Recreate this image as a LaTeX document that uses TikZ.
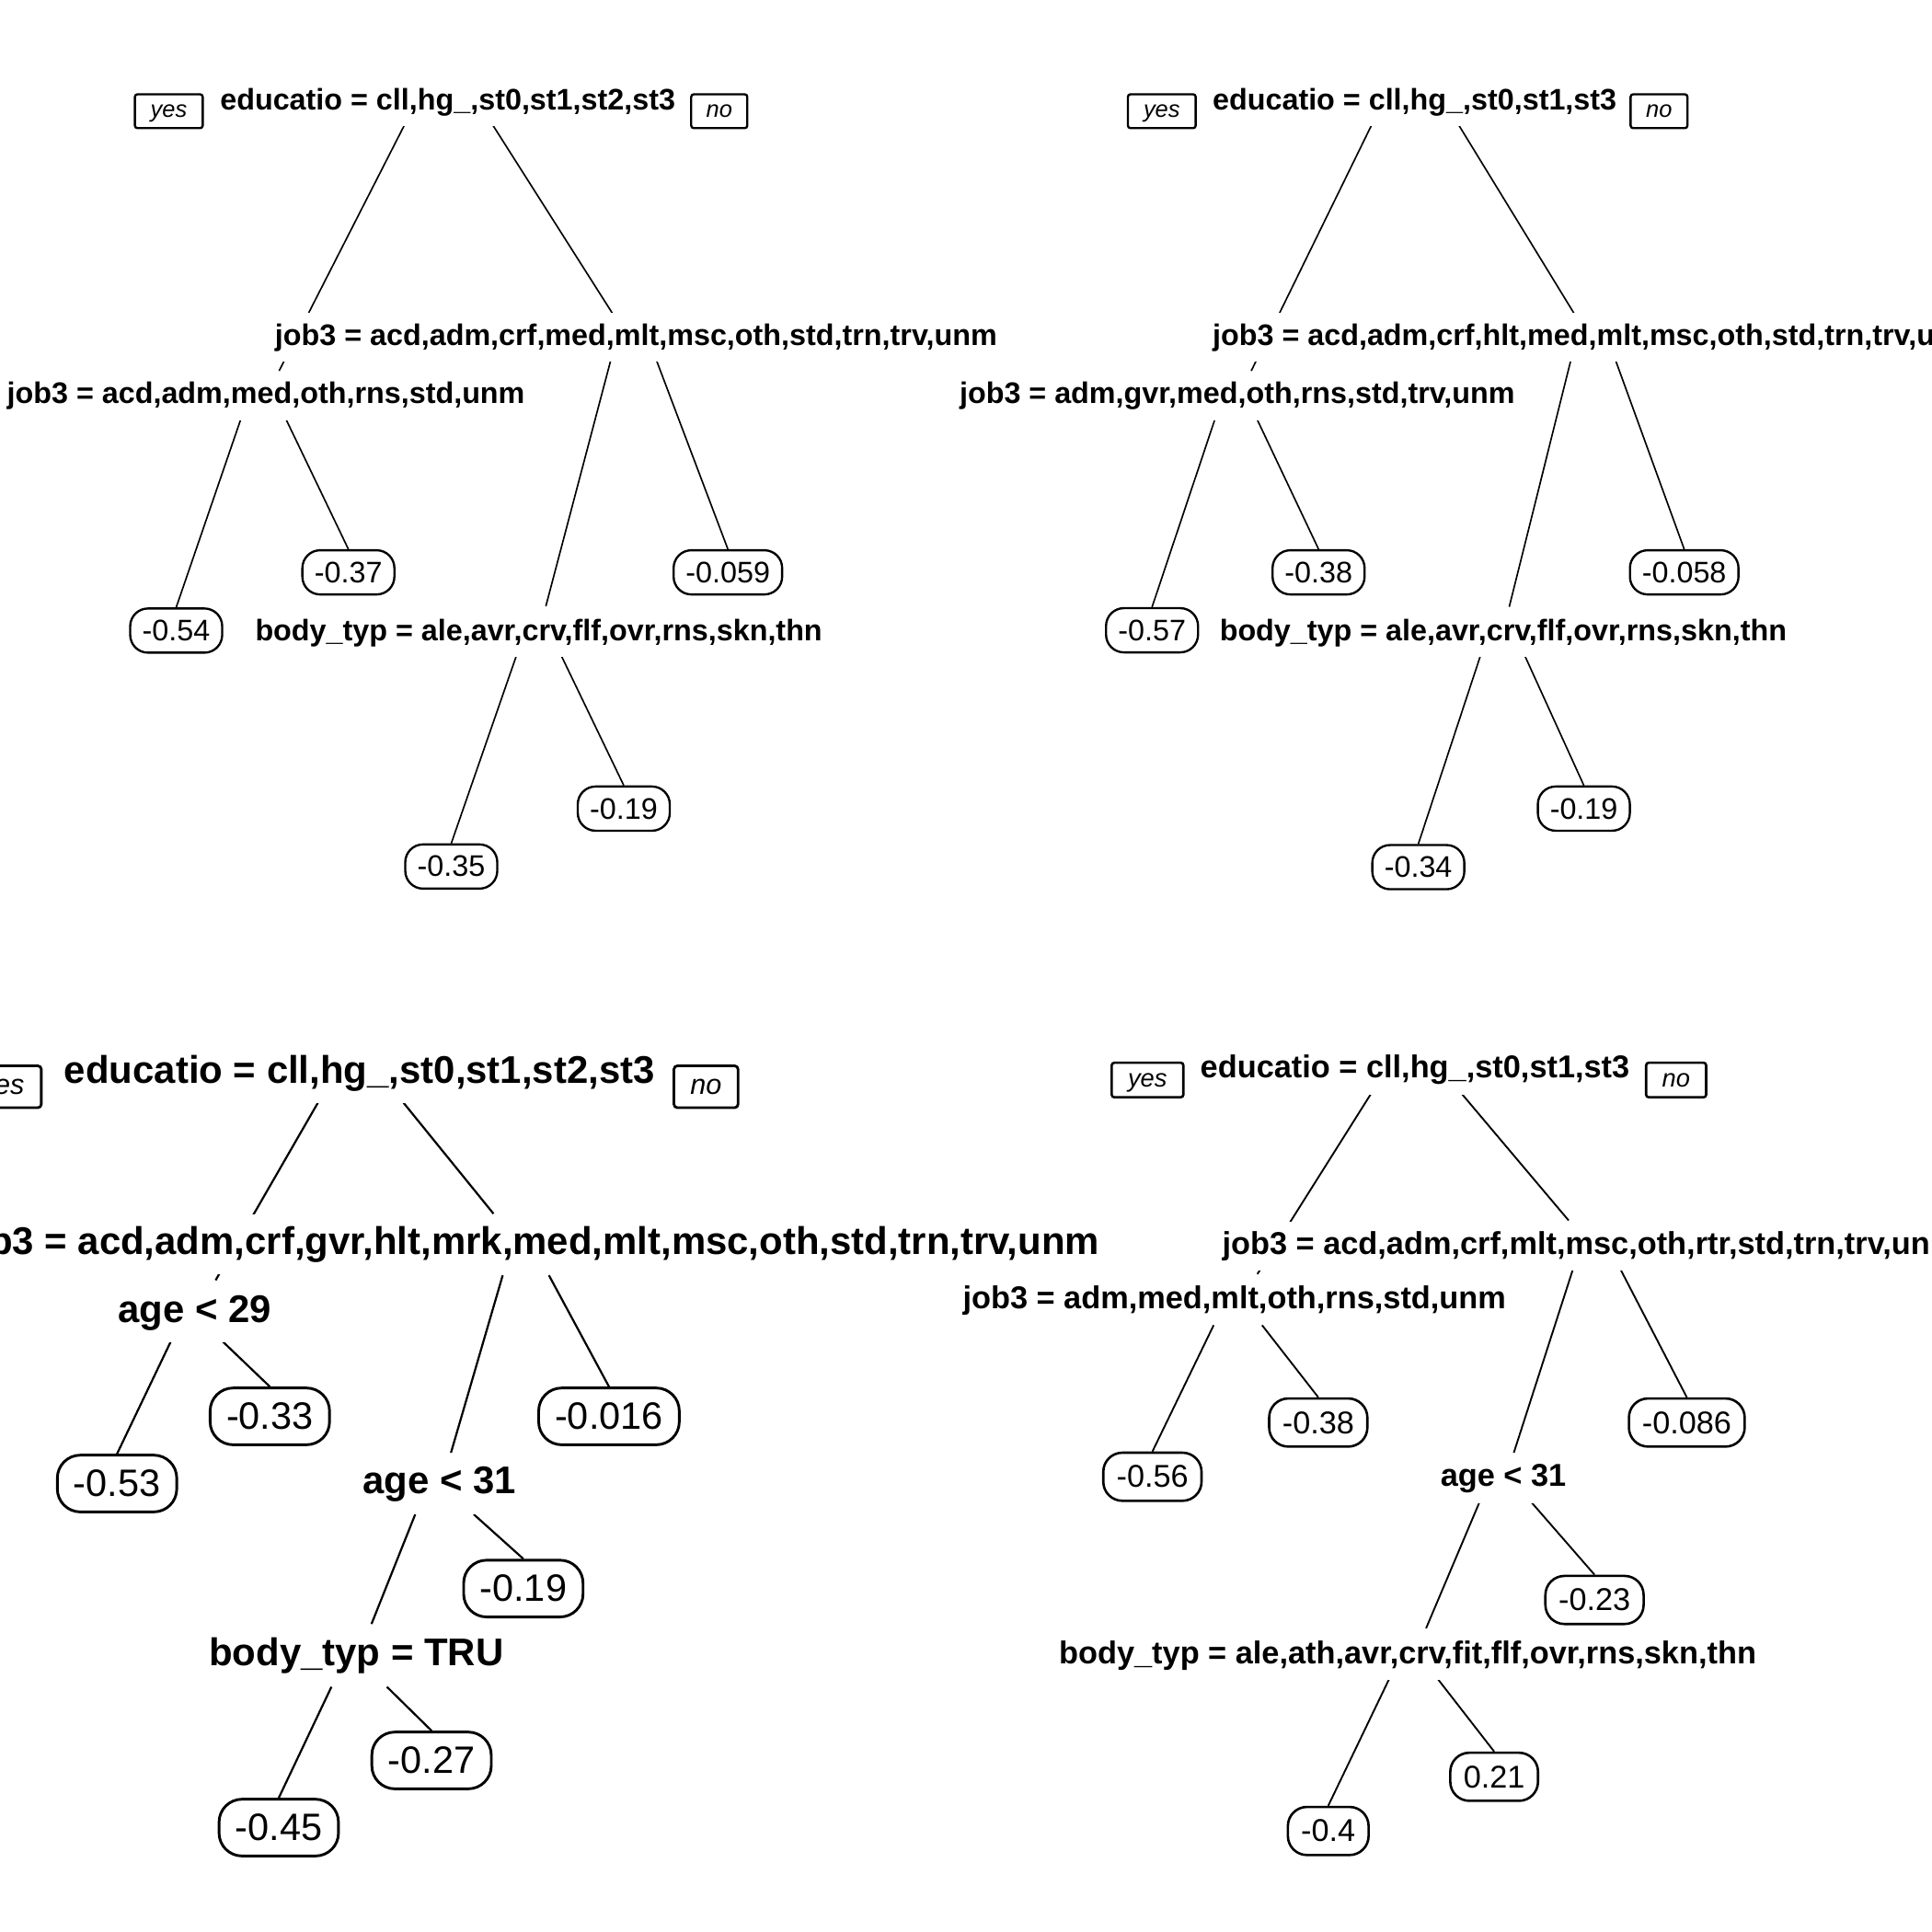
\documentclass[tikz,border=0pt]{standalone}
\usepackage{fontspec}
\setmainfont{Liberation Sans}
\usetikzlibrary{backgrounds}
\begin{document}
\begin{tikzpicture}[x=0.01cm,y=-0.01cm,
  splitA/.style={font=\fontsize{6.86pt}{8pt}\selectfont\bfseries, fill=white, inner xsep=0pt, inner ysep=2.4pt, anchor=base west},
  splitB/.style={font=\fontsize{8.9pt}{10pt}\selectfont\bfseries, fill=white, inner xsep=0pt, inner ysep=2.8pt, anchor=base west},
  splitC/.style={font=\fontsize{7.29pt}{8.5pt}\selectfont\bfseries, fill=white, inner xsep=0pt, inner ysep=2.3pt, anchor=base west},
  leafA/.style={draw, fill=white, line width=0.5pt, rounded corners=4.1pt, inner xsep=2.8pt, inner ysep=0pt, minimum height=10.2pt, font=\fontsize{6.86pt}{8pt}\selectfont},
  leafB/.style={draw, fill=white, line width=0.62pt, rounded corners=5.3pt, inner xsep=3.75pt, inner ysep=0pt, minimum height=13.1pt, font=\fontsize{8.8pt}{10pt}\selectfont},
  leafC/.style={draw, fill=white, line width=0.55pt, rounded corners=4.4pt, inner xsep=3.05pt, inner ysep=0pt, minimum height=11.1pt, font=\fontsize{7.27pt}{8.5pt}\selectfont},
  ynA/.style={draw, fill=white, line width=0.5pt, rounded corners=0.6pt, inner sep=0.5pt, text depth=0pt, minimum height=7.82pt, font=\fontsize{5.4pt}{6pt}\selectfont\itshape},
  ynB/.style={draw, fill=white, line width=0.6pt, rounded corners=0.8pt, inner sep=0.5pt, text depth=0pt, minimum height=9.67pt, font=\fontsize{6.5pt}{7pt}\selectfont\itshape},
  ynC/.style={draw, fill=white, line width=0.55pt, rounded corners=0.6pt, inner sep=0.5pt, text depth=0pt, minimum height=7.97pt, font=\fontsize{5.8pt}{6.5pt}\selectfont\itshape},
  edgeA/.style={line width=0.35pt},
  edgeB/.style={line width=0.47pt},
  edgeC/.style={line width=0.4pt}]
\useasboundingbox (0,0) rectangle (1568,1568);
\clip (0,0) rectangle (1568,1568);

% ================= top-left tree =================
\node[ynA, minimum width=15.65pt] (tl-yes) at (137,90.25) {yes};
\node[ynA, minimum width=12.95pt] (tl-no) at (583.75,90.25) {no};
\node[splitA] (tl-root) at (178,89) {educatio = cll,hg\_,st0,st1,st2,st3};
\node[splitA] (tl-jr) at (222.5,280) {job3 = acd,adm,crf,med,mlt,msc,oth,std,trn,trv,unm};
\node[splitA] (tl-jl) at (5,327.5) {job3 = acd,adm,med,oth,rns,std,unm};
\node[splitA] (tl-bd) at (206.5,520) {body\_typ = ale,avr,crv,flf,ovr,rns,skn,thn};
\node[leafA] (tl-a) at (143,511.75) {-0.54};
\node[leafA] (tl-b) at (282.75,464.5) {-0.37};
\node[leafA] (tl-c) at (590.75,464.5) {-0.059};
\node[leafA] (tl-d) at (366.25,703.25) {-0.35};
\node[leafA] (tl-e) at (506.25,656.25) {-0.19};
\coordinate (tl-r1) at (329,100);
\coordinate (tl-r2) at (399,100);
\coordinate (tl-jrin) at (497.5,255);
\coordinate (tl-jlin) at (226.5,301);
\coordinate (tl-jl1) at (195.5,340);
\coordinate (tl-jl2) at (232,340);
\coordinate (tl-jr1) at (495.5,293);
\coordinate (tl-jr2) at (533,293);
\coordinate (tl-bdin) at (443,492);
\coordinate (tl-bd1) at (419.5,531);
\coordinate (tl-bd2) at (455,531);

% ================= top-right tree =================
\node[ynA, minimum width=15.65pt] (tr-yes) at (942.9,90.25) {yes};
\node[ynA, minimum width=13.12pt] (tr-no) at (1346.45,90.25) {no};
\node[splitA] (tr-root) at (983.5,89) {educatio = cll,hg\_,st0,st1,st3};
\node[splitA] (tr-jr) at (983.5,280) {job3 = acd,adm,crf,hlt,med,mlt,msc,oth,std,trn,trv,unm};
\node[splitA] (tr-jl) at (778.1,327.5) {job3 = adm,gvr,med,oth,rns,std,trv,unm};
\node[splitA] (tr-bd) at (989.2,520) {body\_typ = ale,avr,crv,flf,ovr,rns,skn,thn};
\node[leafA] (tr-a) at (935,511.5) {-0.57};
\node[leafA] (tr-b) at (1070.15,464.5) {-0.38};
\node[leafA] (tr-c) at (1366.9,464.5) {-0.058};
\node[leafA] (tr-d) at (1151.1,703.75) {-0.34};
\node[leafA] (tr-e) at (1285.45,656.25) {-0.19};
\coordinate (tr-r1) at (1113.9,100);
\coordinate (tr-r2) at (1183,100);
\coordinate (tr-jrin) at (1277.3,254);
\coordinate (tr-jlin) at (1015.5,301);
\coordinate (tr-jl1) at (986.1,340);
\coordinate (tr-jl2) at (1020.1,340);
\coordinate (tr-jr1) at (1274.7,293);
\coordinate (tr-jr2) at (1311.4,293);
\coordinate (tr-bdin) at (1224.9,492.5);
\coordinate (tr-bd1) at (1201.9,531);
\coordinate (tr-bd2) at (1237,531);

% ================= bottom-left tree =================
\node[ynB, minimum width=17.93pt] (bl-yes) at (2,882) {yes};
\node[ynB, minimum width=14.8pt] (bl-no) at (573,882) {no};
\node[splitB] (bl-root) at (51.5,879) {educatio = cll,hg\_,st0,st1,st2,st3};
\node[splitB, anchor=base east] (bl-jr) at (893,1018) {job3 = acd,adm,crf,gvr,hlt,mrk,med,mlt,msc,oth,std,trn,trv,unm};
\node[splitB] (bl-ag29) at (95,1073) {age < 29};
\node[splitB] (bl-ag31) at (294,1212.5) {age < 31};
\node[splitB] (bl-bd) at (169,1352) {body\_typ = TRU};
\node[leafB] (bl-a) at (95,1204) {-0.53};
\node[leafB] (bl-b) at (219,1149.5) {-0.33};
\node[leafB] (bl-c) at (494.25,1149.5) {-0.016};
\node[leafB] (bl-d) at (424.75,1289.25) {-0.19};
\node[leafB] (bl-e) at (350.25,1428.75) {-0.27};
\node[leafB] (bl-f) at (226.25,1483.25) {-0.45};
\coordinate (bl-r1) at (258,895);
\coordinate (bl-r2) at (327.5,895);
\coordinate (bl-jrin) at (400.5,985);
\coordinate (bl-jlin) at (175,1039);
\coordinate (bl-g1) at (138.5,1089);
\coordinate (bl-g2) at (181,1089);
\coordinate (bl-jr1) at (408,1035);
\coordinate (bl-jr2) at (445.5,1035);
\coordinate (bl-a31in) at (366,1179);
\coordinate (bl-h1) at (337,1229);
\coordinate (bl-h2) at (384.5,1229);
\coordinate (bl-bdin) at (301.5,1318);
\coordinate (bl-bd1) at (269,1369);
\coordinate (bl-bd2) at (314,1369);

% ================= bottom-right tree =================
\node[ynC, minimum width=16.53pt] (br-yes) at (931.35,876.5) {yes};
\node[ynC, minimum width=13.86pt] (br-no) at (1360.35,876.5) {no};
\node[splitC] (br-root) at (973.5,875) {educatio = cll,hg\_,st0,st1,st3};
\node[splitC] (br-jr) at (991.3,1018) {job3 = acd,adm,crf,mlt,msc,oth,rtr,std,trn,trv,unm};
\node[splitC] (br-jl) at (780.7,1062) {job3 = adm,med,mlt,oth,rns,std,unm};
\node[splitC] (br-ag31) at (1168.4,1206.5) {age < 31};
\node[splitC] (br-bd) at (858.8,1350) {body\_typ = ale,ath,avr,crv,fit,flf,ovr,rns,skn,thn};
\node[leafC] (br-a) at (935.3,1198.5) {-0.56};
\node[leafC] (br-b) at (1069.9,1154.5) {-0.38};
\node[leafC] (br-c) at (1369,1154.5) {-0.086};
\node[leafC] (br-d) at (1294.1,1298.5) {-0.23};
\node[leafC] (br-e) at (1212.65,1442) {0.21};
\node[leafC] (br-f) at (1078,1486) {-0.4};
\coordinate (br-r1) at (1112.8,887.5);
\coordinate (br-r2) at (1186.2,887.5);
\coordinate (br-jrin) at (1273.1,990.5);
\coordinate (br-jlin) at (1020.5,1034);
\coordinate (br-jl1) at (985,1075.5);
\coordinate (br-jl2) at (1024.3,1075.5);
\coordinate (br-jr1) at (1276.3,1031);
\coordinate (br-jr2) at (1315.6,1031);
\coordinate (br-a31in) at (1228.6,1179);
\coordinate (br-h1) at (1200.8,1219);
\coordinate (br-h2) at (1242.7,1219);
\coordinate (br-bdin) at (1157.4,1321.5);
\coordinate (br-bd1) at (1127.5,1362.5);
\coordinate (br-bd2) at (1166.8,1362.5);

\begin{scope}[on background layer]
  \fill[white] (0,0) rectangle (1568,1568);
  % top-left
  \draw[edgeA] (tl-r1) -- (tl-jlin);
  \draw[edgeA] (tl-r2) -- (tl-jrin);
  \draw[edgeA] (tl-jl1) -- (tl-a.north);
  \draw[edgeA] (tl-jl2) -- (tl-b.north);
  \draw[edgeA] (tl-jr1) -- (tl-bdin);
  \draw[edgeA] (tl-jr2) -- (tl-c.north);
  \draw[edgeA] (tl-bd1) -- (tl-d.north);
  \draw[edgeA] (tl-bd2) -- (tl-e.north);
  % top-right
  \draw[edgeA] (tr-r1) -- (tr-jlin);
  \draw[edgeA] (tr-r2) -- (tr-jrin);
  \draw[edgeA] (tr-jl1) -- (tr-a.north);
  \draw[edgeA] (tr-jl2) -- (tr-b.north);
  \draw[edgeA] (tr-jr1) -- (tr-bdin);
  \draw[edgeA] (tr-jr2) -- (tr-c.north);
  \draw[edgeA] (tr-bd1) -- (tr-d.north);
  \draw[edgeA] (tr-bd2) -- (tr-e.north);
  % bottom-left
  \draw[edgeB] (bl-r1) -- (bl-jlin);
  \draw[edgeB] (bl-r2) -- (bl-jrin);
  \draw[edgeB] (bl-g1) -- (bl-a.north);
  \draw[edgeB] (bl-g2) -- (bl-b.north);
  \draw[edgeB] (bl-jr1) -- (bl-a31in);
  \draw[edgeB] (bl-jr2) -- (bl-c.north);
  \draw[edgeB] (bl-h1) -- (bl-bdin);
  \draw[edgeB] (bl-h2) -- (bl-d.north);
  \draw[edgeB] (bl-bd1) -- (bl-f.north);
  \draw[edgeB] (bl-bd2) -- (bl-e.north);
  % bottom-right
  \draw[edgeC] (br-r1) -- (br-jlin);
  \draw[edgeC] (br-r2) -- (br-jrin);
  \draw[edgeC] (br-jl1) -- (br-a.north);
  \draw[edgeC] (br-jl2) -- (br-b.north);
  \draw[edgeC] (br-jr1) -- (br-a31in);
  \draw[edgeC] (br-jr2) -- (br-c.north);
  \draw[edgeC] (br-h1) -- (br-bdin);
  \draw[edgeC] (br-h2) -- (br-d.north);
  \draw[edgeC] (br-bd1) -- (br-f.north);
  \draw[edgeC] (br-bd2) -- (br-e.north);
\end{scope}
\end{tikzpicture}
\end{document}
